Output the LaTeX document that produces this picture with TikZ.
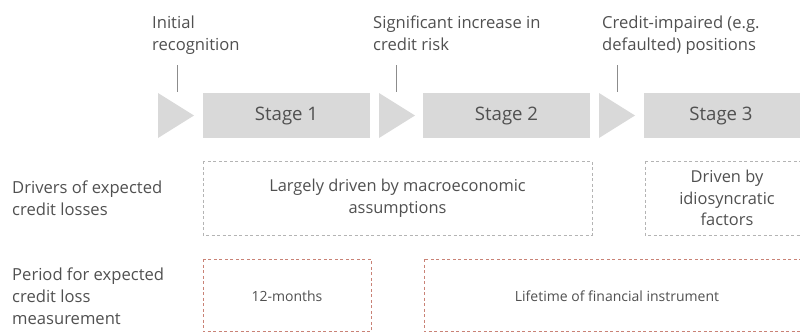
\documentclass[tikz,border=0pt]{standalone}
\usepackage{fontspec}
\setmainfont{Open Sans}
\definecolor{stagegray}{HTML}{D9D9D9}
\definecolor{txt}{HTML}{505050}
\definecolor{dashgray}{HTML}{B4B4B4}
\definecolor{dashred}{HTML}{C98276}
\definecolor{tick}{HTML}{8C8C8C}
\begin{document}
\begin{tikzpicture}[x=1pt,y=-1pt,
  stagebox/.style={fill=stagegray,draw=none},
  stagetext/.style={font=\fontsize{18.6}{22}\selectfont,text=txt},
  arrowtri/.style={fill=stagegray,draw=none},
  toplabel/.style={anchor=north west,align=left,inner sep=0pt,text=txt,font=\fontsize{16.6}{22}\selectfont},
  sidelabel/.style={anchor=north west,align=left,inner sep=0pt,text=txt,font=\fontsize{16.6}{21.7}\selectfont},
  graybox/.style={draw=dashgray,line width=0.6pt,dash pattern=on 3pt off 2.5pt},
  redbox/.style={draw=dashred,line width=0.7pt,dash pattern=on 3pt off 2.5pt},
  boxtext/.style={align=center,text=txt,font=\fontsize{16.4}{21.5}\selectfont},
  smalltext/.style={align=center,text=txt,font=\fontsize{14}{16}\selectfont},
  ticklink/.style={draw=tick,line width=0.8pt}]
\useasboundingbox (0,0) rectangle (800,333);
\clip (0,0) rectangle (800,333);

% stage row
\fill[arrowtri] (158,93) -- (194,115.5) -- (158,138) -- cycle;
\fill[arrowtri] (379,93) -- (415,115.5) -- (379,138) -- cycle;
\fill[arrowtri] (599,93) -- (635,115.5) -- (599,138) -- cycle;
\fill[stagebox] (203,93) rectangle (370,138);
\fill[stagebox] (423,93) rectangle (590,138);
\fill[stagebox] (644,93) rectangle (812,138);
\node[stagetext] (s1) at (286.5,116) {Stage 1};
\node[stagetext] (s2) at (506.5,116) {Stage 2};
\node[stagetext] (s3) at (721,116) {Stage 3};

% top labels
\node[toplabel] (l1) at (152,15.5) {Initial\\recognition};
\node[toplabel] (l2) at (373,15.5) {Significant increase in\\credit risk};
\node[toplabel] (l3) at (602,15.5) {Credit-impaired (e.g.\\defaulted) positions};
\coordinate (t1a) at (177,65); \coordinate (t1b) at (177,92);
\coordinate (t2a) at (396,65); \coordinate (t2b) at (396,92);
\coordinate (t3a) at (617,65); \coordinate (t3b) at (617,92);
\draw[ticklink] (t1a) -- (t1b);
\draw[ticklink] (t2a) -- (t2b);
\draw[ticklink] (t3a) -- (t3b);

% drivers row
\node[sidelabel] (d0) at (12,181) {Drivers of expected\\credit losses};
\draw[graybox] (203,161) rectangle (592,235);
\node[boxtext] (d1) at (397.5,198) {Largely driven by macroeconomic\\assumptions};
\draw[graybox] (645,161) rectangle (809,235);
\node[boxtext] (d2) at (727,198) {Driven by\\idiosyncratic\\factors};

% period row
\node[sidelabel] (p0) at (12,268) {Period for expected\\credit loss\\measurement};
\draw[redbox] (203,259) rectangle (371,331.5);
\node[smalltext] (p1) at (287,296) {12-months};
\draw[redbox] (424,259) rectangle (810,331.5);
\node[smalltext] (p2) at (617,296) {Lifetime of financial instrument};
\end{tikzpicture}
\end{document}
